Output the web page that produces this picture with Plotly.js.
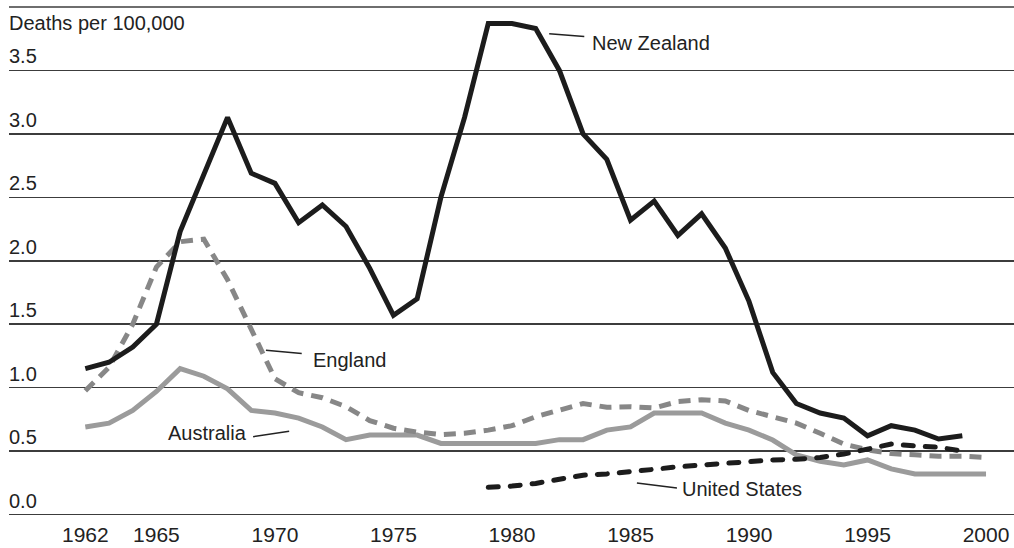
<!DOCTYPE html>
<html>
<head>
<meta charset="utf-8">
<script src="https://cdn.plot.ly/plotly-3.0.1.min.js"></script>
<style>
  html, body { margin: 0; padding: 0; background: #fff; }
  #chart { width: 1014px; height: 548px; }
  .scatterlayer .trace:nth-child(3) .js-line { stroke-linecap: round; }
</style>
</head>
<body>
<div id="chart"></div>
<script>
// ---- Data ----
const yearsNZ = [1962,1963,1964,1965,1966,1967,1968,1969,1970,1971,1972,1973,1974,1975,1976,1977,1978,1979,1980,1981,1982,1983,1984,1985,1986,1987,1988,1989,1990,1991,1992,1993,1994,1995,1996,1997,1998,1999];
const newZealand = [1.15,1.20,1.32,1.50,2.23,2.68,3.13,2.69,2.61,2.30,2.44,2.27,1.94,1.57,1.70,2.50,3.13,3.87,3.87,3.83,3.50,3.00,2.80,2.32,2.47,2.20,2.37,2.10,1.68,1.12,0.875,0.80,0.76,0.62,0.70,0.665,0.595,0.62];

const yearsFull = [1962,1963,1964,1965,1966,1967,1968,1969,1970,1971,1972,1973,1974,1975,1976,1977,1978,1979,1980,1981,1982,1983,1984,1985,1986,1987,1988,1989,1990,1991,1992,1993,1994,1995,1996,1997,1998,1999,2000];
const england = [0.975,1.16,1.50,1.95,2.15,2.17,1.85,1.45,1.07,0.96,0.92,0.85,0.74,0.68,0.65,0.63,0.64,0.665,0.70,0.77,0.82,0.875,0.845,0.85,0.84,0.89,0.905,0.895,0.82,0.77,0.72,0.64,0.555,0.51,0.48,0.47,0.46,0.46,0.45];
const australia = [0.69,0.72,0.82,0.97,1.15,1.09,0.99,0.82,0.80,0.76,0.69,0.59,0.626,0.626,0.626,0.56,0.56,0.56,0.56,0.56,0.59,0.59,0.665,0.69,0.80,0.80,0.80,0.72,0.665,0.587,0.47,0.42,0.39,0.43,0.36,0.32,0.32,0.32,0.32];

const yearsUS = [1979,1980,1981,1982,1983,1984,1985,1986,1987,1988,1989,1990,1991,1992,1993,1994,1995,1996,1997,1998,1999];
const unitedStates = [0.214,0.224,0.245,0.277,0.31,0.32,0.335,0.356,0.376,0.39,0.403,0.416,0.43,0.435,0.45,0.476,0.52,0.555,0.54,0.53,0.50];

const xTickVals = [1962,1965,1970,1975,1980,1985,1990,1995,2000];
const xTickText = ['1962','1965','1970','1975','1980','1985','1990','1995','2000'];
const yTickVals = [0,0.5,1,1.5,2,2.5,3,3.5];
const yTickText = ['0.0','0.5','1.0','1.5','2.0','2.5','3.0','3.5'];
const yTitle = 'Deaths per 100,000';
const yTop = 4.0;

// Series labels: [text, label x, label y, anchor, leader x0, y0, x1, y1]
const seriesLabels = [
  ['New Zealand', 1983.3, 3.72, 'left', 1981.57, 3.789, 1983.05, 3.768],
  ['England', 1971.5, 1.217, 'left', 1969.62, 1.295, 1971.13, 1.269],
  ['Australia', 1968.9, 0.642, 'right', 1969.08, 0.613, 1970.60, 0.657],
  ['United States', 1987.1, 0.20, 'left', 1985.27, 0.248, 1986.96, 0.209]
];

const FONT = 'Liberation Sans, Arial, sans-serif';
const TXT = '#222222';

const traces = [
  { x: yearsFull, y: australia, type: 'scatter', mode: 'lines',
    line: { color: '#9b9b9b', width: 5 }, name: 'Australia' },
  { x: yearsFull, y: england, type: 'scatter', mode: 'lines',
    line: { color: '#878787', width: 5, dash: '12px,8px' }, name: 'England' },
  { x: yearsUS, y: unitedStates, type: 'scatter', mode: 'lines',
    line: { color: '#1c1c1c', width: 5, dash: '10px,12px' }, name: 'United States' },
  { x: yearsNZ, y: newZealand, type: 'scatter', mode: 'lines',
    line: { color: '#1c1c1c', width: 5 }, name: 'New Zealand' }
];

const annotations = [];
yTickVals.forEach((v, i) => {
  annotations.push({ xref: 'paper', x: 0, yref: 'y', y: v, xanchor: 'left', yanchor: 'bottom',
    text: yTickText[i], showarrow: false, yshift: 1, xshift: -2,
    font: { family: FONT, size: 20, color: TXT } });
});
annotations.push({ xref: 'paper', x: 0, yref: 'y', y: yTop, xanchor: 'left', yanchor: 'top',
  text: yTitle, showarrow: false, yshift: -3, xshift: -2,
  font: { family: FONT, size: 20, color: TXT } });

const shapes = [
  { type: 'line', xref: 'paper', x0: 0, x1: 1, yref: 'y', y0: yTop, y1: yTop,
    line: { color: '#6e6e6e', width: 2 } }
];
seriesLabels.forEach(s => {
  annotations.push({ xref: 'x', x: s[1], yref: 'y', y: s[2], xanchor: s[3], yanchor: 'middle',
    text: s[0], showarrow: false, font: { family: FONT, size: 20, color: TXT } });
  shapes.push({ type: 'line', xref: 'x', yref: 'y', x0: s[4], y0: s[5], x1: s[6], y1: s[7],
    line: { color: '#222222', width: 1.5 } });
});

const layout = {
  width: 1014, height: 548,
  margin: { l: 9, r: 0, t: 3, b: 30 },
  paper_bgcolor: '#ffffff', plot_bgcolor: '#ffffff',
  showlegend: false,
  font: { family: FONT, size: 20, color: TXT },
  xaxis: {
    range: [1958.78, 2001.18],
    tickvals: xTickVals, ticktext: xTickText,
    showgrid: false, zeroline: false, showline: false, ticks: '',
    ticklabelstandoff: 2,
    tickfont: { family: FONT, size: 21, color: TXT }
  },
  yaxis: {
    range: [-0.0276, 4.0315],
    tickvals: yTickVals, showticklabels: false,
    showgrid: true, gridcolor: '#3c3c3c', gridwidth: 1.5,
    zeroline: false, showline: false, ticks: ''
  },
  annotations: annotations,
  shapes: shapes
};

Plotly.newPlot('chart', traces, layout, { staticPlot: true, displayModeBar: false });
</script>
</body>
</html>
